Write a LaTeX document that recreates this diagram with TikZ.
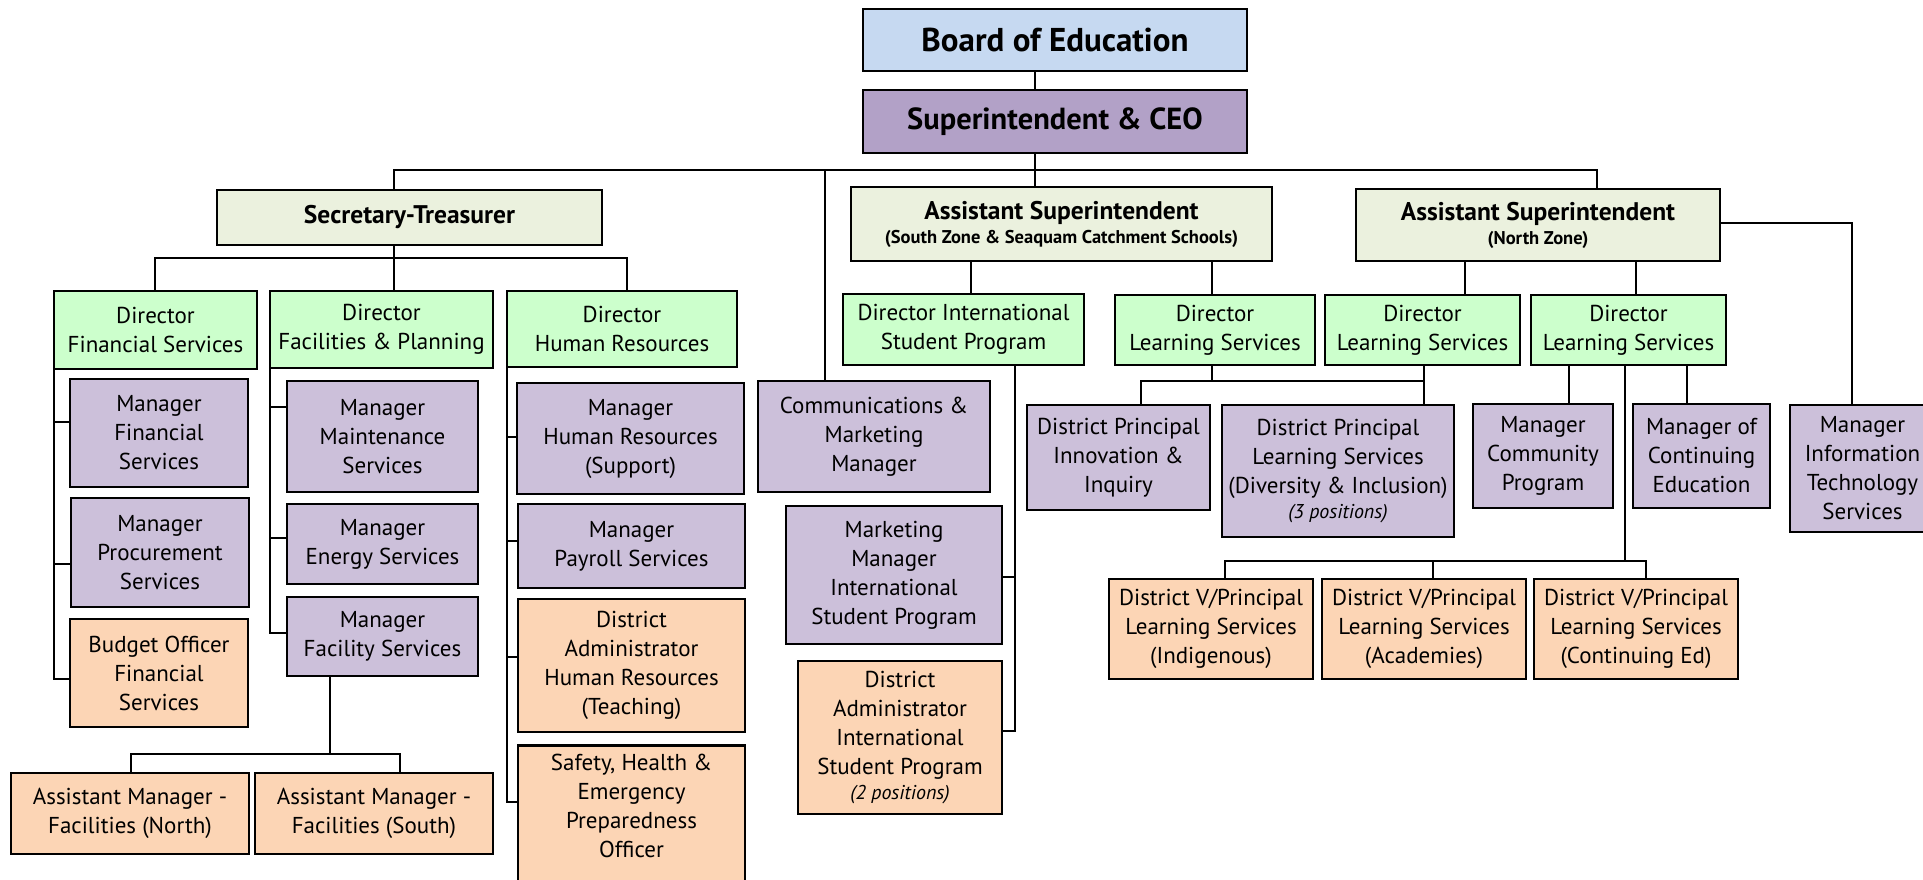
\documentclass[tikz,border=0pt]{standalone}
\usepackage{fontspec}
\setmainfont{PT Sans}
\definecolor{cBoard}{HTML}{C6D9F1}
\definecolor{cSup}{HTML}{B2A1C7}
\definecolor{cAsst}{HTML}{EBF1DE}
\definecolor{cDir}{HTML}{CCFFCC}
\definecolor{cMgr}{HTML}{CCC0DA}
\definecolor{cOrg}{HTML}{FCD5B5}
\newcommand\BX[7]{\node[#1, minimum width={#5pt-#3pt}, minimum height={#6pt-#4pt}] (#2) at ({(#3+#5)/2},{(#4+#6)/2}) {#7};}
\newcommand\smallit[1]{{\fontsize{20}{22}\selectfont\itshape #1}}
\newcommand\subt[1]{{\fontsize{18.5}{21}\selectfont #1}}
\tikzset{
  box/.style={draw=black, line width=2.5pt, align=center, inner sep=0pt, text=black,
    font=\fontsize{23}{29}\selectfont},
  boardbox/.style={box, fill=cBoard, font=\fontsize{33}{36}\selectfont\bfseries},
  supbox/.style={box, fill=cSup, font=\fontsize{30.5}{34}\selectfont\bfseries},
  asstbox/.style={box, fill=cAsst, font=\fontsize{25.5}{27}\selectfont\bfseries},
  dirbox/.style={box, fill=cDir},
  mgrbox/.style={box, fill=cMgr},
  orgbox/.style={box, fill=cOrg},
  conn/.style={draw=black, line width=2pt}
}
\begin{document}
\begin{tikzpicture}[x=1pt,y=-1pt]
\useasboundingbox (0,0) rectangle (1923,879);
% top
\BX{boardbox}{board}{863}{9}{1247}{71}{Board of Education}
\BX{supbox}{sup}{863}{90}{1247}{153}{Superintendent \& CEO}
\BX{asstbox}{sec}{217}{190}{602}{245}{Secretary-Treasurer}
\BX{asstbox}{asS}{851}{187}{1272}{261}{Assistant Superintendent\\[-3pt]\subt{(South Zone \& Seaquam Catchment Schools)}}
\BX{asstbox}{asN}{1356}{189}{1720}{261}{Assistant Superintendent\\[-3pt]\subt{(North Zone)}}
% directors
\BX{dirbox}{dfs}{54}{291}{257}{369}{Director\\Financial Services}
\BX{dirbox}{dfp}{270}{291}{493}{368}{Director\\Facilities \& Planning}
\BX{dirbox}{dhr}{507}{291}{737}{367}{Director\\Human Resources}
\BX{dirbox}{dis}{843}{294}{1084}{365}{Director International\\Student Program}
\BX{dirbox}{ls1}{1115}{295}{1315}{365}{Director\\Learning Services}
\BX{dirbox}{ls2}{1325}{295}{1520}{365}{Director\\Learning Services}
\BX{dirbox}{ls3}{1531}{295}{1726}{365}{Director\\Learning Services}
% finance
\BX{mgrbox}{mfs}{70}{379}{248}{487}{Manager\\Financial\\Services}
\BX{mgrbox}{mps}{71}{498}{249}{607}{Manager\\Procurement\\Services}
\BX{orgbox}{bof}{70}{619}{248}{727}{Budget Officer\\Financial\\Services}
% facilities
\BX{mgrbox}{mms}{287}{381}{478}{492}{Manager\\Maintenance\\Services}
\BX{mgrbox}{mes}{287}{504}{478}{584}{Manager\\Energy Services}
\BX{mgrbox}{mfc}{287}{597}{478}{676}{Manager\\Facility Services}
\BX{orgbox}{amn}{11}{773}{249}{854}{Assistant Manager -\\Facilities (North)}
\BX{orgbox}{ams}{255}{773}{493}{854}{Assistant Manager -\\Facilities (South)}
% HR
\BX{mgrbox}{mhr}{517}{383}{744}{494}{Manager\\Human Resources\\(Support)}
\BX{mgrbox}{mpy}{518}{504}{745}{588}{Manager\\Payroll Services}
\BX{orgbox}{dah}{518}{599}{745}{732}{District\\Administrator\\Human Resources\\(Teaching)}
\node[orgbox, minimum width=227pt, anchor=north, inner ysep=9pt] (she) at (631.5,744)
  {Safety, Health \&\\Emergency\\Preparedness\\Officer\rule[-60pt]{0pt}{0pt}};
% communications / international
\BX{mgrbox}{cmm}{758}{381}{990}{492}{Communications \&\\Marketing\\Manager}
\BX{mgrbox}{mmi}{786}{506}{1002}{644}{Marketing\\Manager\\International\\Student Program}
\BX{orgbox}{dai}{798}{661}{1002}{814}{District\\Administrator\\International\\Student Program\\[-4pt]\smallit{(2 positions)}}
% learning services
\BX{mgrbox}{dpi}{1027}{405}{1210}{510}{District Principal\\Innovation \&\\Inquiry}
\BX{mgrbox}{dpd}{1222}{405}{1454}{537}{District Principal\\Learning Services\\(Diversity \& Inclusion)\\[-4pt]\smallit{(3 positions)}}
\BX{mgrbox}{mcp}{1473}{404}{1613}{508}{Manager\\Community\\Program}
\BX{mgrbox}{mce}{1633}{404}{1770}{508}{Manager of\\Continuing\\Education}
\BX{mgrbox}{mit}{1790}{405}{1935}{532}{Manager\\Information\\Technology\\Services}
\BX{orgbox}{dv1}{1109}{579}{1313}{679}{District V/Principal\\Learning Services\\(Indigenous)}
\BX{orgbox}{dv2}{1322}{579}{1526}{679}{District V/Principal\\Learning Services\\(Academies)}
\BX{orgbox}{dv3}{1534}{579}{1738}{679}{District V/Principal\\Learning Services\\(Continuing Ed)}
% ---------- connectors ----------
\coordinate (t1) at (394,170);
\coordinate (t2) at (825,170);
\coordinate (t3) at (1035,170);
\coordinate (t4) at (1597,170);
\draw[conn] (board.south -| t3) -- (sup.north -| t3);
\draw[conn] (sup.south -| t3) -- (t3);
\draw[conn] (sec.north -| t1) -- (t1) -- (t4) -- (asN.north -| t4);
\draw[conn] (t2) -- (cmm.north -| t2);
\draw[conn] (t3) -- (asS.north -| t3);
% secretary bus
\coordinate (s1) at (155,258);
\coordinate (s2) at (394,258);
\coordinate (s3) at (627,258);
\draw[conn] (sec.south -| s2) -- (s2);
\draw[conn] (dfs.north -| s1) -- (s1) -- (s3) -- (dhr.north -| s3);
\draw[conn] (s2) -- (dfp.north -| s2);
% finance spine
\coordinate (f1) at (54,422);
\coordinate (f2) at (54,564);
\coordinate (f3) at (54,679);
\draw[conn] (dfs.south -| f1) -- (f3) -- (f3 -| bof.west);
\draw[conn] (f1) -- (f1 -| mfs.west);
\draw[conn] (f2) -- (f2 -| mps.west);
% facilities spine
\coordinate (p1) at (270,407);
\coordinate (p2) at (270,538);
\coordinate (p3) at (270,633);
\draw[conn] (dfp.south -| p1) -- (p3) -- (p3 -| mfc.west);
\draw[conn] (p1) -- (p1 -| mms.west);
\draw[conn] (p2) -- (p2 -| mes.west);
\coordinate (a0) at (330,754);
\coordinate (a1) at (131,754);
\coordinate (a2) at (400,754);
\draw[conn] (mfc.south -| a0) -- (a0);
\draw[conn] (amn.north -| a1) -- (a1) -- (a2) -- (ams.north -| a2);
% HR spine
\coordinate (h1) at (507,437);
\coordinate (h2) at (507,541);
\coordinate (h3) at (507,657);
\coordinate (h4) at (507,802);
\draw[conn] (dhr.south -| h1) -- (h4) -- (h4 -| she.west);
\draw[conn] (h1) -- (h1 -| mhr.west);
\draw[conn] (h2) -- (h2 -| mpy.west);
\draw[conn] (h3) -- (h3 -| dah.west);
% south zone
\coordinate (z1) at (971,280);
\coordinate (z2) at (1212,280);
\draw[conn] (asS.south -| z1) -- (dis.north -| z1);
\draw[conn] (asS.south -| z2) -- (ls1.north -| z2);
% international spine
\coordinate (i1) at (1015,577);
\coordinate (i2) at (1015,731);
\draw[conn] (dis.south -| i1) -- (i2) -- (i2 -| dai.east);
\draw[conn] (i1) -- (i1 -| mmi.east);
% learning services 1/2 bus
\coordinate (l1) at (1141,381);
\coordinate (l2) at (1212,381);
\coordinate (l3) at (1424,381);
\draw[conn] (ls1.south -| l2) -- (l2);
\draw[conn] (dpi.north -| l1) -- (l1) -- (l3);
\draw[conn] (ls2.south -| l3) -- (dpd.north -| l3);
% north zone
\coordinate (n1) at (1465,280);
\coordinate (n2) at (1636,280);
\draw[conn] (asN.south -| n1) -- (ls2.north -| n1);
\draw[conn] (asN.south -| n2) -- (ls3.north -| n2);
\coordinate (n3) at (1852,223);
\draw[conn] (asN.east |- n3) -- (n3) -- (mit.north -| n3);
% learning services 3
\coordinate (k1) at (1569,390);
\coordinate (k2) at (1687,390);
\coordinate (k3) at (1625,561);
\draw[conn] (ls3.south -| k1) -- (mcp.north -| k1);
\draw[conn] (ls3.south -| k2) -- (mce.north -| k2);
\draw[conn] (ls3.south -| k3) -- (k3);
\coordinate (v1) at (1225,561);
\coordinate (v2) at (1433,561);
\coordinate (v3) at (1646,561);
\draw[conn] (dv1.north -| v1) -- (v1) -- (v3) -- (dv3.north -| v3);
\draw[conn] (v2) -- (dv2.north -| v2);
\end{tikzpicture}
\end{document}
